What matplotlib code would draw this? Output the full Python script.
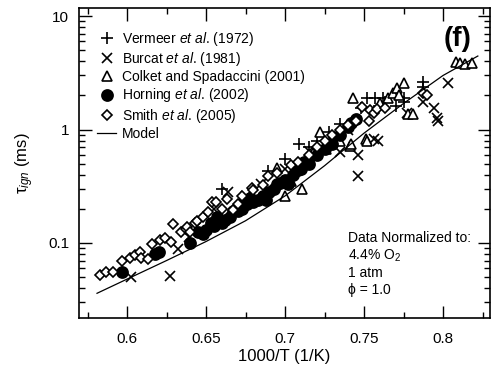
import numpy as np
import matplotlib
matplotlib.use('Agg')
from matplotlib import pyplot as plt
from matplotlib.ticker import FixedLocator, MultipleLocator, NullFormatter, LogLocator

plt.rcParams['font.family'] = ['Liberation Sans', 'DejaVu Sans']
plt.rcParams['mathtext.fontset'] = 'custom'
plt.rcParams['mathtext.rm'] = 'Liberation Sans'
plt.rcParams['mathtext.it'] = 'Liberation Sans:italic'
plt.rcParams['mathtext.bf'] = 'Liberation Sans:bold'

# Vermeer et al. (1972)
vermeer_x = [0.660, 0.689, 0.700, 0.709, 0.715, 0.720, 0.728, 0.735, 0.748, 0.752,
             0.756, 0.757, 0.762, 0.763, 0.770, 0.775, 0.775, 0.787, 0.787]
vermeer_t = [0.30, 0.43, 0.55, 0.74, 0.70, 0.80, 0.95, 1.11, 1.55, 1.91,
             1.45, 1.91, 1.91, 1.76, 1.60, 1.91, 1.76, 2.65, 2.39]

# Burcat et al. (1981)
burcat_x = [0.6025, 0.627, 0.632, 0.639, 0.655, 0.664, 0.675, 0.685, 0.700, 0.715,
            0.730, 0.735, 0.740, 0.746, 0.746, 0.756, 0.759, 0.777, 0.787, 0.794,
            0.796, 0.797, 0.803]
burcat_t = [0.050, 0.051, 0.088, 0.112, 0.20, 0.284, 0.26, 0.33, 0.45, 0.65,
            0.75, 0.64, 1.00, 0.60, 0.39, 0.82, 0.80, 1.41, 1.76, 1.56,
            1.27, 1.20, 2.60]

# Colket and Spadaccini (2001)
colket_x = [0.695, 0.700, 0.704, 0.711, 0.718, 0.722, 0.726, 0.730, 0.735, 0.741,
            0.742, 0.743, 0.751, 0.752, 0.760, 0.765, 0.768, 0.771, 0.772, 0.775,
            0.778, 0.781, 0.808, 0.811, 0.814, 0.818]
colket_t = [0.46, 0.26, 0.35, 0.30, 0.62, 0.96, 0.68, 0.85, 0.80, 0.72,
            0.74, 1.91, 0.82, 0.79, 1.70, 1.90, 2.12, 2.34, 2.00, 2.60,
            1.36, 1.38, 3.97, 3.90, 3.75, 3.87]

# Horning et al. (2002)
horning_x = [0.597, 0.618, 0.620, 0.640, 0.645, 0.648, 0.650, 0.653, 0.655, 0.657,
             0.660, 0.662, 0.665, 0.667, 0.670, 0.672, 0.673, 0.676, 0.678, 0.680,
             0.683, 0.686, 0.688, 0.690, 0.693, 0.695, 0.697, 0.700, 0.702, 0.705,
             0.708, 0.710, 0.712, 0.715, 0.720, 0.725, 0.730, 0.735, 0.740, 0.742,
             0.745]
horning_t = [0.056, 0.080, 0.083, 0.100, 0.125, 0.12, 0.13, 0.15, 0.14, 0.17,
             0.15, 0.16, 0.17, 0.19, 0.19, 0.22, 0.20, 0.22, 0.25, 0.23,
             0.24, 0.26, 0.24, 0.28, 0.30, 0.33, 0.34, 0.36, 0.33, 0.40,
             0.44, 0.45, 0.52, 0.50, 0.60, 0.68, 0.75, 0.90, 1.05, 1.15,
             1.25]

# Smith et al. (2005)
smith_x = [0.583, 0.587, 0.591, 0.597, 0.602, 0.605, 0.608, 0.609, 0.613, 0.616,
           0.621, 0.624, 0.628, 0.629, 0.634, 0.637, 0.638, 0.640, 0.643, 0.644,
           0.648, 0.651, 0.654, 0.656, 0.660, 0.663, 0.667, 0.670, 0.673, 0.679,
           0.680, 0.686, 0.689, 0.695, 0.704, 0.708, 0.715, 0.720, 0.725, 0.730,
           0.735, 0.740, 0.745, 0.749, 0.753, 0.754, 0.756, 0.758, 0.763, 0.787,
           0.790]
smith_t = [0.052, 0.055, 0.056, 0.069, 0.074, 0.079, 0.084, 0.074, 0.072, 0.097,
           0.107, 0.110, 0.103, 0.146, 0.124, 0.132, 0.137, 0.126, 0.150, 0.155,
           0.17, 0.186, 0.228, 0.228, 0.20, 0.242, 0.197, 0.22, 0.257, 0.308,
           0.296, 0.327, 0.386, 0.418, 0.49, 0.52, 0.60, 0.70, 0.80, 0.90,
           1.00, 1.10, 1.20, 1.59, 1.18, 1.50, 1.40, 1.52, 1.56, 2.12,
           2.00]

# Model
model_x = [0.581, 0.600, 0.625, 0.650, 0.675, 0.700, 0.725, 0.750, 0.775, 0.800, 0.822]
model_t = [0.036, 0.048, 0.070, 0.103, 0.157, 0.26, 0.48, 0.93, 1.70, 3.0, 4.45]

fig = plt.figure(figsize=(4.96, 3.77), dpi=100)
ax = fig.add_axes([79/496, 1-318/377, 411/496, 310/377])

mk = dict(linestyle='none', color='black', mec='black', mew=1.2)
ax.plot(vermeer_x, vermeer_t, marker='+', ms=8.5, label=r'Vermeer $et\ al$. (1972)', **mk)
ax.plot(burcat_x, burcat_t, marker='x', ms=7.5, label=r'Burcat $et\ al$. (1981)', **mk)
ax.plot(colket_x, colket_t, marker='^', ms=7.5, mfc='white', label='Colket and Spadaccini (2001)', **mk)
ax.plot(horning_x, horning_t, marker='o', ms=8, mfc='black', label=r'Horning $et\ al$. (2002)', **mk)
ax.plot(smith_x, smith_t, marker='D', ms=5.4, mfc='white', label=r'Smith $et\ al$. (2005)', **mk)
ax.plot(model_x, model_t, color='black', lw=0.9, label='Model')

ax.set_yscale('log')
ax.set_xlim(0.5696, 0.8297)
ax.set_ylim(0.0218, 11.8)

ax.xaxis.set_major_locator(FixedLocator([0.6, 0.65, 0.7, 0.75, 0.8]))
ax.xaxis.set_minor_locator(MultipleLocator(0.025))
ax.set_xticklabels(['0.6', '0.65', '0.7', '0.75', '0.8'])
ax.yaxis.set_major_locator(FixedLocator([0.1, 1, 10]))
ax.yaxis.set_minor_locator(LogLocator(base=10, subs=np.arange(2, 10)))
ax.yaxis.set_minor_formatter(NullFormatter())
ax.set_yticklabels(['0.1', '1', '10'])

ax.tick_params(which='both', direction='in', top=True, right=True, width=1.0, labelsize=11)
ax.tick_params(which='major', length=9)
ax.tick_params(which='minor', length=4.5)
ax.tick_params(axis='x', which='major', pad=10)
ax.tick_params(axis='y', which='major', pad=7)
for s in ax.spines.values():
    s.set_linewidth(1.2)

ax.set_xlabel('1000/T (1/K)', fontsize=12, labelpad=2)
ax.set_ylabel(r'τ$_{ign}$ (ms)', fontsize=12, labelpad=9)

lgd = ax.legend(loc='upper left', bbox_to_anchor=(0.045, 0.93), frameon=False, fontsize=10,
                handlelength=1.3, handletextpad=0.45, labelspacing=0.16, borderpad=0,
                borderaxespad=0, numpoints=1)

ax.text(0.956, 0.90, '(f)', transform=ax.transAxes, ha='right', va='center',
        fontsize=20, fontweight='bold')

ax.text(0.654, 0.174, 'Data Normalized to:\n4.4% O$_2$\n1 atm\n\u03d5 = 1.0', transform=ax.transAxes,
        ha='left', va='center', fontsize=10, linespacing=1.2)

plt.savefig('out.png', dpi=100)
